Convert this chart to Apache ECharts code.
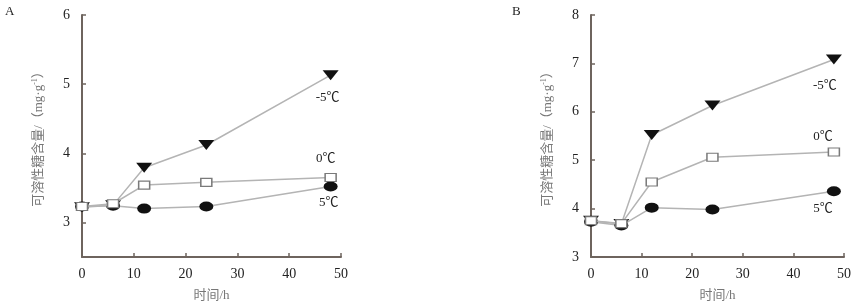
<!DOCTYPE html>
<html><head><meta charset="utf-8">
<script src="https://cdn.jsdelivr.net/npm/echarts@6/dist/echarts.min.js"></script>
<style>html,body{margin:0;padding:0;background:#fff}#c{width:857px;height:307px}</style>
</head><body><div id="c"></div>
<script>
const hours = [0, 6, 12, 24, 48];
const seriesNames = ['5℃', '-5℃', '0℃'];
const A_m5 = [3.22, 3.25, 3.79, 4.12, 5.13];
const A_0 = [3.23, 3.27, 3.54, 3.58, 3.65];
const A_5 = [3.23, 3.24, 3.20, 3.23, 3.52];
const B_m5 = [3.75, 3.68, 5.52, 6.13, 7.08];
const B_0 = [3.75, 3.69, 4.55, 5.06, 5.17];
const B_5 = [3.73, 3.65, 4.02, 3.98, 4.36];
const xTicks = [0, 10, 20, 30, 40, 50];
const yTicksA = [3, 4, 5, 6];
const yTicksB = [3, 4, 5, 6, 7, 8];
const xTitle = '时间/h';
const yTitle = '可溶性糖含量/（mg·g';

const FONT = '"Liberation Serif","Noto Sans CJK SC",serif';
const AX = '#6e645e';
const LINE = '#b4b4b4';

function pts(vals, labelText, labelCfg) {
  return hours.map((h, i) => {
    const d = { value: [h, vals[i]] };
    if (i === hours.length - 1) {
      d.label = Object.assign({ show: true, formatter: labelText, color: '#222', fontFamily: FONT, fontSize: 13 }, labelCfg);
    }
    return d;
  });
}
function mk(idx, vals, name, lab) {
  const base = { type: 'line', xAxisIndex: idx, yAxisIndex: idx, name: name, z: 2,
    lineStyle: { color: LINE, width: 1.5 }, showSymbol: true, animation: false };
  const d = pts(vals, name, lab);
  if (name === '-5℃') return Object.assign(base, { data: d, symbol: 'triangle', symbolRotate: 180, symbolSize: [16, 10], itemStyle: { color: '#111' }, z: 3 });
  if (name === '0℃') return Object.assign(base, { data: d, symbol: 'rect', symbolSize: [11, 8], itemStyle: { color: '#fff', borderColor: '#7a7a7a', borderWidth: 1.3 }, z: 4 });
  return Object.assign(base, { data: d, symbol: 'circle', symbolSize: [14, 10], itemStyle: { color: '#111' }, z: 2 });
}
function xAx(i) {
  return { gridIndex: i, type: 'value', min: 0, max: 50, interval: 10,
    axisLine: { lineStyle: { color: AX, width: 2 } },
    axisTick: { inside: true, length: 4, lineStyle: { color: AX, width: 1.5 } },
    axisLabel: { color: '#222', fontFamily: FONT, fontSize: 14, margin: 10 },
    splitLine: { show: false },
    name: xTitle, nameLocation: 'middle', nameGap: 32,
    nameTextStyle: { color: '#777', fontFamily: FONT, fontSize: 13 } };
}
function yAx(i, min, max, ticks) {
  return { gridIndex: i, type: 'value', min: min, max: max,
    axisLine: { show: true, lineStyle: { color: AX, width: 2 } },
    axisTick: { show: true, inside: true, length: 4, customValues: ticks, lineStyle: { color: AX, width: 1.5 } },
    axisLabel: { color: '#222', fontFamily: FONT, fontSize: 14, margin: 12, customValues: ticks },
    splitLine: { show: false },
    name: '{t|' + yTitle + '}{s|-1}{t|）}', nameLocation: 'middle', nameGap: 35,
    nameTextStyle: { rich: {
      t: { color: '#777', fontFamily: FONT, fontSize: 13 },
      s: { color: '#777', fontFamily: FONT, fontSize: 8, verticalAlign: 'top', padding: [0, 0, 8, 0] } } } };
}
const chart = echarts.init(document.getElementById('c'), null, { renderer: 'canvas' });
chart.setOption({
  animation: false,
  grid: [
    { left: 82, top: 15, width: 259, height: 242 },
    { left: 591, top: 15, width: 253, height: 242 }
  ],
  xAxis: [xAx(0), xAx(1)],
  yAxis: [yAx(0, 2.5, 6, yTicksA), yAx(1, 3, 8, yTicksB)],
  graphic: [
    { type: 'text', left: 5, top: 5, style: { text: 'A', font: '13px ' + FONT, fill: '#222' } },
    { type: 'text', left: 512, top: 5, style: { text: 'B', font: '13px ' + FONT, fill: '#222' } }
  ],
  series: [
    mk(0, A_5, seriesNames[0], { position: 'bottom', distance: 5, offset: [-2, 0] }),
    mk(0, A_m5, seriesNames[1], { position: 'bottom', distance: 11, offset: [-3, 0] }),
    mk(0, A_0, seriesNames[2], { position: 'top', distance: 8, offset: [-5, 0] }),
    mk(1, B_5, seriesNames[0], { position: 'bottom', distance: 6, offset: [-11, 0] }),
    mk(1, B_m5, seriesNames[1], { position: 'bottom', distance: 15, offset: [-9, 0] }),
    mk(1, B_0, seriesNames[2], { position: 'top', distance: 4, offset: [-11, 0] })
  ]
});
</script></body></html>
